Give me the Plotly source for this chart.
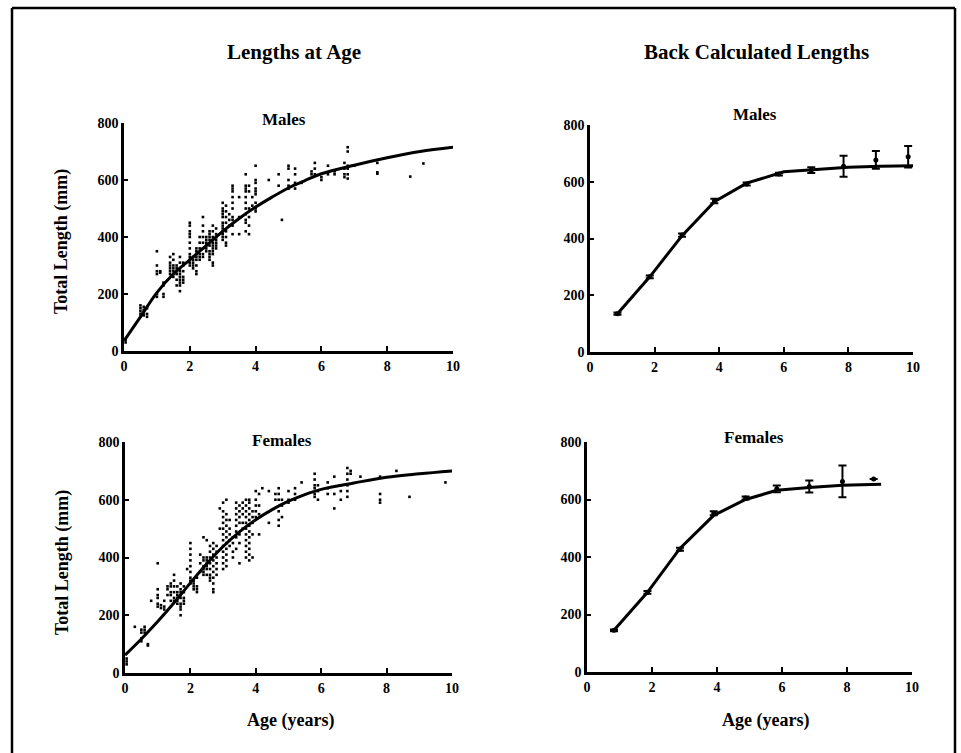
import plotly.graph_objects as go

W, H = 961, 753

# ---------------- data ----------------
curve_age = [0, 0.5, 1, 1.5, 2, 2.5, 3, 3.5, 4, 4.5, 5, 5.5, 6, 7, 8, 9, 10]
male_curve = [35, 120, 205, 270, 320, 370, 420, 465, 505, 540, 572, 598, 622, 652, 678, 700, 715]
female_curve = [62, 118, 178, 243, 312, 378, 438, 489, 531, 566, 595, 618, 636, 658, 678, 690, 700]

male_col_age = [0.05, 0.5, 0.6, 0.7, 1.0, 1.1, 1.2, 1.4, 1.5, 1.6, 1.7, 1.8, 2.0, 2.1, 2.2,
                2.3, 2.4, 2.5, 2.6, 2.7, 2.8, 3.0, 3.1, 3.2, 3.3, 3.5, 3.7, 3.8, 3.9, 4.0,
                4.4, 4.7, 4.8, 5.0, 5.2, 5.4, 5.7, 5.8, 6.0, 6.2, 6.4, 6.7, 6.8, 7.0, 7.7,
                8.7, 9.1]
male_col_len = [
    [40, 30], [150, 140, 130, 120, 160], [155, 145, 135, 125], [150, 130, 120],
    [350, 300, 280, 270, 200, 190], [280, 275], [240, 230, 200, 190],
    [330, 310, 290, 280, 270, 300], [340, 320, 300, 290, 280, 270, 260],
    [300, 290, 280, 270, 250, 230], [330, 310, 290, 280, 270, 260, 250, 240, 230, 210],
    [310, 300, 280, 260, 250, 240],
    [450, 440, 420, 410, 400, 380, 360, 340, 330, 320, 310, 300], [330, 320, 310, 300, 290],
    [360, 350, 340, 330, 320, 300, 280, 270], [400, 380, 360, 340, 330, 320],
    [470, 440, 420, 400, 380, 360, 340, 330], [400, 390, 380, 370, 360, 350],
    [420, 410, 400, 390, 370, 350, 340, 330, 320],
    [440, 420, 400, 390, 380, 370, 360, 350, 340, 310, 300],
    [430, 410, 400, 390, 380, 370, 360],
    [520, 500, 490, 480, 470, 450, 440, 430, 420, 410, 400, 390],
    [510, 490, 470, 450, 420, 400, 380, 370], [480, 460, 440],
    [580, 570, 560, 540, 520, 500, 470, 460, 440, 410], [540, 470, 410],
    [620, 580, 570, 560, 540, 520, 500, 480, 460, 450, 420],
    [580, 560, 500, 470, 440, 410], [540, 510],
    [650, 600, 590, 570, 560, 550, 520, 500, 490],
    [600], [620, 580], [460], [650, 640, 600, 580, 570], [640, 620, 590, 570], [590],
    [630, 620], [660, 640, 620], [610, 600], [650, 620], [630, 620],
    [660, 640, 620, 610], [715, 700, 650, 640, 620, 605], [650], [660, 627, 622],
    [612], [658]]

female_col_age = [0.05, 0.3, 0.5, 0.6, 0.7, 0.8, 1.0, 1.1, 1.2, 1.3, 1.4, 1.5, 1.6, 1.7, 1.8,
                  1.9, 2.0, 2.1, 2.2, 2.3, 2.4, 2.5, 2.6, 2.7, 2.8, 2.9, 3.0, 3.1, 3.2, 3.3,
                  3.4, 3.5, 3.6, 3.7, 3.8, 3.9, 4.0, 4.1, 4.2, 4.4, 4.6, 4.7, 4.8, 5.0, 5.2,
                  5.4, 5.8, 5.9, 6.2, 6.4, 6.6, 6.8, 6.9, 7.2, 7.8, 8.3, 8.7, 9.8]
female_col_len = [
    [40, 30, 50], [160], [150, 140, 120, 110], [160, 150, 140], [100, 95], [250],
    [380, 290, 270, 260, 240, 230], [235, 225], [250, 230, 220], [300, 290, 270],
    [310, 300, 280, 270, 250], [340, 320, 300, 280, 260, 250],
    [300, 280, 270, 260, 250, 240], [310, 290, 280, 270, 260, 240, 230, 220, 200],
    [300, 280, 260, 250, 240], [360],
    [450, 430, 410, 390, 370, 350, 330, 320, 310], [320, 310, 300, 290],
    [330, 300, 290, 280], [410, 380, 350], [470, 400, 390, 370, 360, 350, 340],
    [460, 400, 390, 380, 370, 360, 340], [440, 420, 400, 380, 360, 340, 330, 320],
    [450, 430, 410, 390, 370, 350, 330, 310, 290, 280], [440, 420, 400, 380, 360, 340],
    [570, 500], [590, 560, 540, 520, 500, 480, 460, 440, 420, 400, 380, 360],
    [600, 550, 530, 510, 490, 470, 450, 430, 410, 390, 370], [530, 500, 480, 460, 440],
    [470, 450, 420, 400], [590, 570, 550, 530, 510, 490, 470, 430],
    [580, 560, 540, 520, 480, 450, 380], [590, 570, 550, 520, 500],
    [600, 580, 560, 540, 520, 500, 480, 460, 440, 420, 400],
    [600, 590, 570, 550, 530, 510, 490, 470, 450, 430, 410, 390],
    [560, 540, 520, 480, 400], [630, 600, 580, 560, 540], [620, 580, 550, 480], [640],
    [630, 520], [620, 600], [640, 620, 600, 560, 530, 510], [600, 580, 540],
    [630, 600, 590], [640, 620, 600], [660], [690, 670, 650, 640, 620, 610],
    [650, 630, 600], [660, 640, 620], [680, 620, 570], [650, 630, 600],
    [710, 690, 670, 650, 630, 610], [700, 690], [680], [680, 620, 600, 590], [700],
    [610], [660]]

bc_male_age = [0.85, 1.85, 2.85, 3.85, 4.85, 5.85, 6.85, 7.85, 8.85, 9.85]
bc_male_mean = [135, 265, 412, 532, 592, 627, 641, 655, 677, 688]
bc_male_err = [4, 5, 6, 8, 5, 5, 10, 37, 31, 38]
bc_male_fit_age = [0.85, 1.85, 2.85, 3.85, 4.85, 6.0, 7.0, 8.0, 9.0, 10.05]
bc_male_fit = [135, 265, 410, 530, 595, 635, 643, 651, 655, 656]

bc_female_age = [0.83, 1.86, 2.86, 3.9, 4.88, 5.84, 6.84, 7.86, 8.82]
bc_female_mean = [145, 277, 427, 552, 605, 637, 645, 663, 671]
bc_female_err = [3, 5, 5, 7, 5, 12, 21, 55, 0]
bc_female_fit_age = [0.83, 1.86, 2.86, 3.9, 4.88, 5.84, 6.84, 7.86, 9.05]
bc_female_fit = [145, 277, 430, 545, 600, 632, 642, 650, 653]

x_ticks = [0, 2, 4, 6, 8, 10]
y_ticks = [0, 200, 400, 600, 800]


def flatten(ages, lens):
    xs, ys = [], []
    for a, col in zip(ages, lens):
        for v in col:
            xs.append(a)
            ys.append(v)
    return xs, ys


def px(x):
    return x / W


def py(y):
    return 1 - y / H


FONT = "Liberation Serif"

fig = go.Figure()

# top-left: males lengths at age
mx, my = flatten(male_col_age, male_col_len)
fig.add_trace(go.Scatter(x=mx, y=my, mode="markers", xaxis="x", yaxis="y",
                         marker=dict(symbol="square", size=2.6, color="black"),
                         showlegend=False))
fig.add_trace(go.Scatter(x=curve_age, y=male_curve, mode="lines", xaxis="x", yaxis="y",
                         line=dict(color="black", width=3, shape="spline"), showlegend=False))

# bottom-left: females lengths at age
fx, fy = flatten(female_col_age, female_col_len)
fig.add_trace(go.Scatter(x=fx, y=fy, mode="markers", xaxis="x3", yaxis="y3",
                         marker=dict(symbol="square", size=2.6, color="black"),
                         showlegend=False))
fig.add_trace(go.Scatter(x=curve_age, y=female_curve, mode="lines", xaxis="x3", yaxis="y3",
                         line=dict(color="black", width=3, shape="spline"), showlegend=False))

# top-right: males back calculated
fig.add_trace(go.Scatter(x=bc_male_fit_age, y=bc_male_fit, mode="lines", xaxis="x2", yaxis="y2",
                         line=dict(color="black", width=3), showlegend=False))
fig.add_trace(go.Scatter(x=bc_male_age, y=bc_male_mean, mode="markers", xaxis="x2", yaxis="y2",
                         marker=dict(symbol="circle", size=5, color="black"),
                         error_y=dict(type="data", array=bc_male_err, color="black",
                                      thickness=2, width=4),
                         showlegend=False))

# bottom-right: females back calculated
fig.add_trace(go.Scatter(x=bc_female_fit_age, y=bc_female_fit, mode="lines", xaxis="x4", yaxis="y4",
                         line=dict(color="black", width=3), showlegend=False))
fig.add_trace(go.Scatter(x=bc_female_age, y=bc_female_mean, mode="markers", xaxis="x4", yaxis="y4",
                         marker=dict(symbol="circle", size=5, color="black"),
                         error_y=dict(type="data", array=bc_female_err, color="black",
                                      thickness=2, width=4),
                         showlegend=False))


def xaxis(dom, anchor):
    return dict(domain=dom, anchor=anchor, range=[0, 10], tickvals=x_ticks,
                ticks="inside", ticklen=5, tickwidth=2, tickcolor="black",
                showline=True, linewidth=2.5, linecolor="black", showgrid=False,
                zeroline=False, fixedrange=True, automargin=False,
                tickfont=dict(family=FONT, size=14, color="black", weight="bold"))


def yaxis(dom, anchor):
    return dict(domain=dom, anchor=anchor, range=[0, 800], tickvals=y_ticks,
                ticks="inside", ticklen=4, tickwidth=2, tickcolor="black",
                showline=True, linewidth=2.5, linecolor="black", showgrid=False,
                zeroline=False, fixedrange=True, automargin=False,
                tickfont=dict(family=FONT, size=14, color="black", weight="bold"))


# pixel positions of the four plot areas
TL = (124, 453, 123, 351)
TR = (590, 913, 125, 352)
BL = (125, 452, 442, 673)
BR = (587, 912, 442, 672)


def xd(b):
    return [px(b[0]), px(b[1])]


def yd(b):
    return [py(b[3]), py(b[2])]


ann = []


def text(x, y, s, size, angle=0):
    ann.append(dict(x=px(x), y=py(y), xref="paper", yref="paper", text=s,
                    showarrow=False, xanchor="center", yanchor="middle", textangle=angle,
                    font=dict(family=FONT, size=size, color="black", weight="bold")))


text(294, 52, "Lengths at Age", 21)
text(756, 52, "Back Calculated Lengths", 21)
text(284, 120, "Males", 17)
text(755, 115, "Males", 17)
text(282, 440, "Females", 17)
text(754, 437, "Females", 17)
text(62, 242, "Total Length (mm)", 18, -90)
text(62, 563, "Total Length (mm)", 18, -90)
text(290, 720, "Age (years)", 18)
text(765, 720, "Age (years)", 18)

shapes = []
for (x0, y0, x1, y1) in [(12, 8, 12, 753), (12, 8, 955, 8), (955, 8, 955, 753)]:
    shapes.append(dict(type="line", xref="paper", yref="paper",
                       x0=px(x0), y0=py(y0), x1=px(x1), y1=py(y1),
                       line=dict(color="black", width=2.5)))

fig.update_layout(
    width=W, height=H, autosize=False,
    margin=dict(l=0, r=0, t=0, b=0, pad=0, autoexpand=False),
    paper_bgcolor="white", plot_bgcolor="white",
    xaxis=xaxis(xd(TL), "y"), yaxis=yaxis(yd(TL), "x"),
    xaxis2=xaxis(xd(TR), "y2"), yaxis2=yaxis(yd(TR), "x2"),
    xaxis3=xaxis(xd(BL), "y3"), yaxis3=yaxis(yd(BL), "x3"),
    xaxis4=xaxis(xd(BR), "y4"), yaxis4=yaxis(yd(BR), "x4"),
    annotations=ann, shapes=shapes, showlegend=False,
)

fig.write_html(
    "out.html",
    config={"responsive": False, "displayModeBar": False},
    post_script="document.body.style.margin='0';document.body.style.overflow='hidden';",
)
